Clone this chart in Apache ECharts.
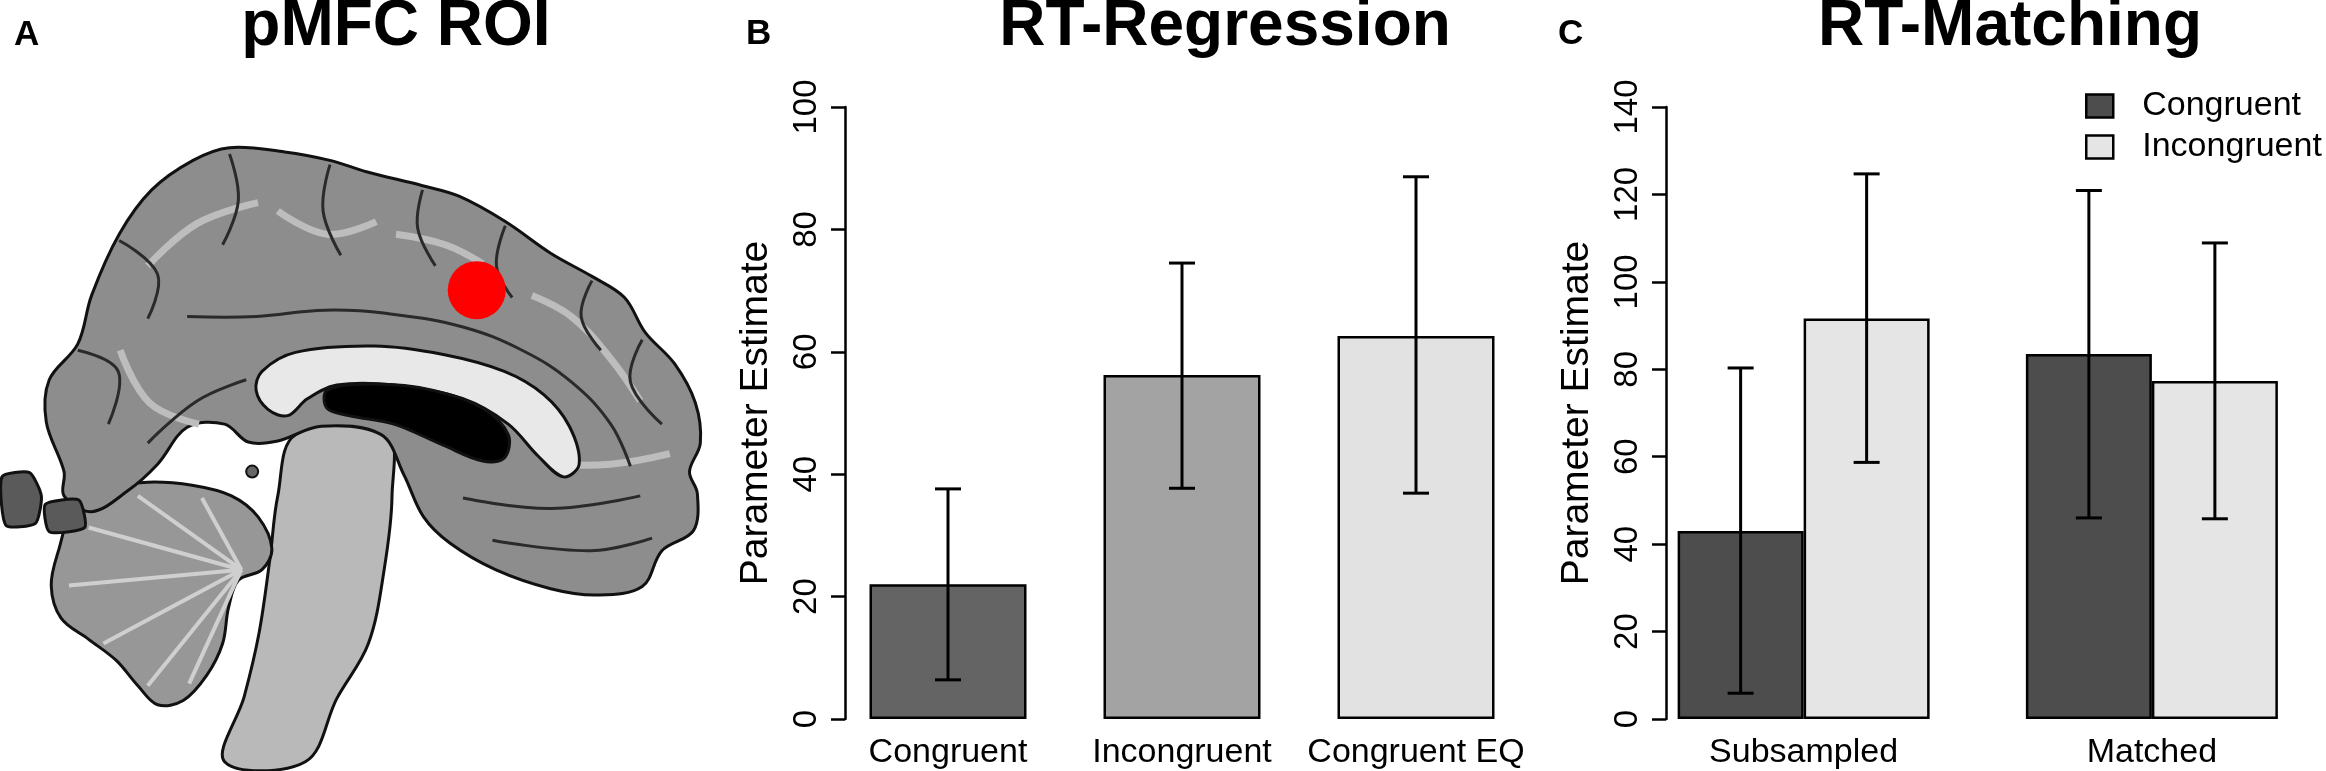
<!DOCTYPE html>
<html>
<head>
<meta charset="utf-8">
<title>pMFC ROI / RT-Regression / RT-Matching</title>
<script src="https://cdn.jsdelivr.net/npm/echarts@6/dist/echarts.min.js"></script>
<style>
  html, body { margin: 0; padding: 0; background: #fff; }
  #chart { width: 2326px; height: 771px; }
</style>
</head>
<body>
<div id="chart"></div>
<script>
// ---- data: panel B (RT-Regression)
const regCategories = ['Congruent', 'Incongruent', 'Congruent EQ']
const regValues = [22.0, 56.2, 62.6]
const regLower = [6.4, 37.7, 36.9]
const regUpper = [37.6, 74.5, 88.6]
const regColors = ['#646464', '#a3a3a3', '#e2e2e2']

// ---- data: panel C (RT-Matching)
const matchCategories = ['Subsampled', 'Matched']
const matchCongruent = [43.0, 83.5]
const matchCongLower = [5.9, 46.0]
const matchCongUpper = [80.3, 120.9]
const matchIncongruent = [91.6, 77.3]
const matchIncLower = [58.7, 45.8]
const matchIncUpper = [124.7, 108.9]

// y axis ranges
const regMax = 100
const matchMax = 140
const tickStep = 20

const font = '"Liberation Sans", Arial, Helvetica, sans-serif'
const capHalf = 13
const barWidthB = 157
const barWidthC = 126

// ---- panel A: a rough sagittal brain drawing (illustration only, not data)
const cerebrum = [[65,447],[47,400],[50,360],[79,326],[93,280],[121,222],[154,180],[196,152],[233,140],[289,144],[335,152],[373,163],[429,176],[466,186],[513,210],[559,240],[601,262],[634,282],[655,315],[685,345],[706,382],[711,420],[700,447],[708,468],[704,503],[672,522],[652,556],[606,564],[559,558],[503,540],[457,515],[430,490],[410,450],[387,412],[326,404],[282,418],[252,419],[228,402],[190,405],[160,440],[130,465],[93,485],[65,470]]
const brainstem = [[300,412],[392,408],[398,470],[390,540],[374,610],[342,662],[310,722],[228,722],[248,660],[263,600],[274,530],[282,470]]
const cerebellum = [[60,520],[75,482],[110,463],[150,457],[195,460],[235,470],[262,490],[276,520],[266,540],[242,550],[232,576],[226,610],[210,640],[186,664],[160,668],[140,650],[118,626],[90,606],[62,586],[52,555]]
const callosum = [[266,352],[300,334],[380,328],[450,336],[512,352],[552,374],[578,404],[588,440],[572,452],[546,432],[516,402],[470,378],[400,365],[342,365],[312,378],[292,394],[272,388],[260,370]]
const ventricle = [[332,370],[380,364],[440,370],[490,387],[516,412],[512,434],[490,437],[450,422],[400,402],[355,394],[332,387]]
const fragments = [
  [[2,452],[30,448],[42,470],[36,496],[6,498]],
  [[46,478],[80,474],[86,500],[50,504]]
]
const sulci = [
  [[190,300],[260,300],[330,294],[400,298],[470,310],[530,332],[580,362],[620,402],[640,442]],
  [[233,146],[242,190],[226,232]],
  [[335,156],[328,200],[346,242]],
  [[429,180],[424,216],[442,252]],
  [[513,214],[504,252],[520,282]],
  [[601,266],[590,300],[610,332]],
  [[121,228],[160,260],[150,302]],
  [[79,332],[120,352],[110,402]],
  [[652,322],[640,362],[672,402]],
  [[470,472],[560,482],[650,470]],
  [[500,512],[600,522],[662,510]],
  [[150,420],[200,380],[250,360]]
]
const whiteMatter = [
  [[150,252],[200,212],[262,192]],
  [[282,200],[332,222],[382,210]],
  [[402,222],[452,232],[490,250]],
  [[122,332],[152,382],[202,402]],
  [[540,280],[580,300],[620,340],[650,380]],
  [[560,440],[620,440],[680,430]]
]
const folia = [
  [[245,540],[90,500]], [[245,540],[70,555]], [[245,540],[105,610]],
  [[245,540],[150,650]], [[245,540],[192,648]], [[245,540],[140,470]], [[245,540],[205,472]]
]
const roiCenter = [484, 275]
const roiRadius = 29
// sketch units -> pixels
const sketchScale = [0.985, 1.055]

function fit(points) {
  return points.map(p => [p[0] * sketchScale[0], p[1] * sketchScale[1]])
}
function poly(points, fill, smooth) {
  return {
    type: 'polygon',
    shape: { points: fit(points), smooth: smooth == null ? 0.35 : smooth },
    style: { fill: fill, stroke: '#111', lineWidth: 3 }
  }
}
function line(points, stroke, width) {
  return {
    type: 'polyline',
    shape: { points: fit(points), smooth: 0.4 },
    style: { stroke: stroke, lineWidth: width, fill: null }
  }
}
function dot(c, r, fill, stroke) {
  const p = fit([c])[0]
  return {
    type: 'circle',
    shape: { cx: p[0], cy: p[1], r: r },
    style: stroke ? { fill: fill, stroke: stroke, lineWidth: 2 } : { fill: fill }
  }
}
function label(text, x, y, size, align) {
  return {
    type: 'text',
    x: x, y: y,
    style: {
      text: text, fill: '#000',
      font: 'bold ' + size + 'px ' + font,
      textAlign: align, textVerticalAlign: 'middle',
      align: align, verticalAlign: 'middle'
    }
  }
}

const brainGraphics = [
  poly(brainstem, '#b9b9b9'),
  poly(cerebellum, '#979797'),
  ...folia.map(p => line(p, '#cfcfcf', 4)),
  poly(cerebrum, '#8d8d8d'),
  ...whiteMatter.map(p => line(p, '#bdbdbd', 7)),
  ...sulci.map(p => line(p, '#2a2a2a', 3)),
  poly(callosum, '#e8e8e8'),
  poly(ventricle, '#000'),
  ...fragments.map(p => poly(p, '#5a5a5a', 0.2)),
  dot([256, 447], 6, '#666', '#111'),
  dot(roiCenter, roiRadius, '#ff0000')
]

// error bars drawn through the axes
function errorBars(shift) {
  return function (params, api) {
    const cat = api.value(0)
    const x = api.coord([cat, 0])[0] + shift
    const yLo = api.coord([cat, api.value(1)])[1]
    const yHi = api.coord([cat, api.value(2)])[1]
    const st = { stroke: '#000', lineWidth: 3 }
    return {
      type: 'group',
      children: [
        { type: 'line', shape: { x1: x, y1: yLo, x2: x, y2: yHi }, style: st },
        { type: 'line', shape: { x1: x - capHalf, y1: yHi, x2: x + capHalf, y2: yHi }, style: st },
        { type: 'line', shape: { x1: x - capHalf, y1: yLo, x2: x + capHalf, y2: yLo }, style: st }
      ]
    }
  }
}

function yAxisFor(gridIndex, max, offset) {
  return {
    gridIndex: gridIndex,
    type: 'value',
    min: 0, max: max, interval: tickStep,
    offset: offset,
    axisLine: { show: true, lineStyle: { color: '#000', width: 2.5 } },
    axisTick: { show: true, length: 14, lineStyle: { color: '#000', width: 2.5 } },
    axisLabel: { rotate: 90, fontSize: 33, color: '#000', margin: 22, fontFamily: font },
    splitLine: { show: false },
    name: 'Parameter Estimate',
    nameLocation: 'middle',
    nameRotate: 90,
    nameGap: 69,
    nameTextStyle: { fontSize: 39, color: '#000', fontFamily: font }
  }
}
function xAxisFor(gridIndex, cats) {
  return {
    gridIndex: gridIndex,
    type: 'category',
    data: cats,
    axisLine: { show: false },
    axisTick: { show: false },
    axisLabel: { fontSize: 34, color: '#000', margin: 17, interval: 0, fontFamily: font }
  }
}

const chart = echarts.init(document.getElementById('chart'))
chart.setOption({
  animation: false,
  backgroundColor: '#fff',
  textStyle: { fontFamily: font },
  graphic: [
    ...brainGraphics,
    label('A', 14, 35, 35, 'left'),
    label('pMFC ROI', 396, 27, 64, 'center'),
    label('B', 746, 34, 35, 'left'),
    label('RT-Regression', 1225, 27, 64, 'center'),
    label('C', 1558, 34, 35, 'left'),
    label('RT-Matching', 2010, 27, 64, 'center')
  ],
  grid: [
    { left: 831, top: 107, width: 702, height: 612 },
    { left: 1629.5, top: 107, width: 750, height: 612 }
  ],
  xAxis: [xAxisFor(0, regCategories), xAxisFor(1, matchCategories)],
  yAxis: [yAxisFor(0, regMax, -14), yAxisFor(1, matchMax, -36.5)],
  legend: {
    data: ['Congruent', 'Incongruent'],
    orient: 'vertical',
    left: 2085, top: 89,
    padding: 0,
    itemWidth: 27, itemHeight: 23, itemGap: 7,
    icon: 'rect',
    selectedMode: false,
    itemStyle: { borderColor: '#000', borderWidth: 2.5 },
    textStyle: { fontSize: 34, color: '#000', fontFamily: font, padding: [0, 0, 0, 24] }
  },
  series: [
    {
      name: 'RT-Regression',
      type: 'bar',
      xAxisIndex: 0, yAxisIndex: 0,
      barWidth: barWidthB,
      data: regValues.map((v, i) => ({ value: v, itemStyle: { color: regColors[i] } })),
      itemStyle: { borderColor: '#000', borderWidth: 2.5 }
    },
    {
      name: 'RT-Regression SE',
      type: 'custom',
      xAxisIndex: 0, yAxisIndex: 0,
      z: 5,
      renderItem: errorBars(0),
      encode: { x: 0, y: [1, 2] },
      data: regLower.map((lo, i) => [i, lo, regUpper[i]])
    },
    {
      name: 'Congruent',
      type: 'bar',
      xAxisIndex: 1, yAxisIndex: 1,
      barWidth: barWidthC,
      barGap: '0%',
      data: matchCongruent,
      itemStyle: { color: '#4d4d4d', borderColor: '#000', borderWidth: 2.5 }
    },
    {
      name: 'Incongruent',
      type: 'bar',
      xAxisIndex: 1, yAxisIndex: 1,
      barWidth: barWidthC,
      barGap: '0%',
      data: matchIncongruent,
      itemStyle: { color: '#e5e5e5', borderColor: '#000', borderWidth: 2.5 }
    },
    {
      name: 'Congruent SE',
      type: 'custom',
      xAxisIndex: 1, yAxisIndex: 1,
      z: 5,
      renderItem: errorBars(-barWidthC / 2),
      encode: { x: 0, y: [1, 2] },
      data: matchCongLower.map((lo, i) => [i, lo, matchCongUpper[i]])
    },
    {
      name: 'Incongruent SE',
      type: 'custom',
      xAxisIndex: 1, yAxisIndex: 1,
      z: 5,
      renderItem: errorBars(barWidthC / 2),
      encode: { x: 0, y: [1, 2] },
      data: matchIncLower.map((lo, i) => [i, lo, matchIncUpper[i]])
    }
  ]
})
</script>
</body>
</html>
